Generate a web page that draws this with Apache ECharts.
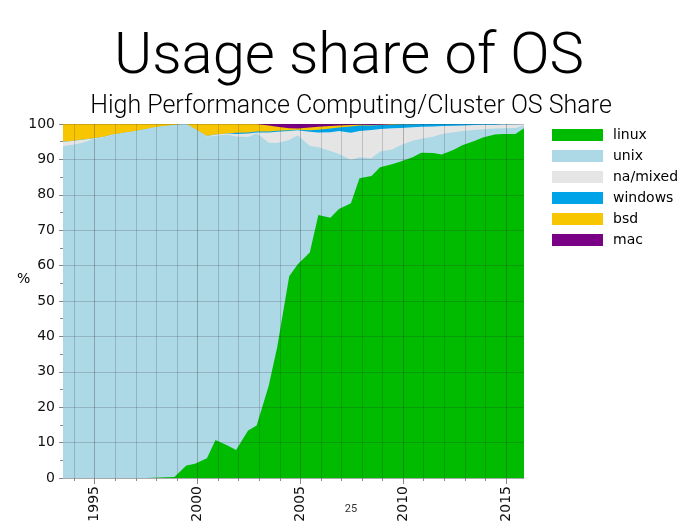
<!DOCTYPE html>
<html><head><meta charset="utf-8">
<script src="https://cdn.jsdelivr.net/npm/echarts@6/dist/echarts.min.js"></script>
<style>html,body{margin:0;padding:0;background:#fff}#c{width:700px;height:525px}</style>
</head><body><div id="c"></div>
<script>
// TOP500 list dates (June / November of each year, as decimal years)
const startYear = 1993;
const endYear = 2015;
const listDates = [];
for (let y = startYear; y <= endYear; y++) { listDates.push(y + 0.458); listDates.push(y + 0.875); }

const seriesNames = ['linux', 'unix', 'na/mixed', 'windows', 'bsd', 'mac'];
const seriesColors = ['#00bb00', '#add8e6', '#e5e5e5', '#00a2e8', '#f7c600', '#7a0085'];

const linux = [0,0,0,0,0,0,0,0,0,0.1,0.2,0.3,3.5,4.0,5.6,10.7,9.2,7.9,13.4,14.8,26,37,57,60.4,63.7,74.3,73.5,76,77.6,84.7,85.3,87.8,88.6,89.4,90.6,91.9,91.8,91.4,92.7,94.0,95.2,96.2,97.0,97.2,97.2,98.8];
const unix = [93.8,94.1,94.8,95.7,96.3,96.9,97.5,97.9,98.5,98.9,99.2,99.4,96.5,94.6,90.9,86.0,87.8,88.6,82.9,82.6,68.7,57.6,38.5,36.4,30.1,19.1,18.9,15.5,12.3,5.9,5.0,4.4,4.2,4.6,4.7,3.9,4.6,5.8,5.0,4.0,3.1,2.3,1.7,1.6,1.7,0.8];
const mixed = [1.2,1.1,0.8,0.2,0.1,0.1,0,0,0,0,0,0,0,0,0.1,0.3,0.3,0.7,1.0,0.2,2.9,3.2,2.5,1.4,4.0,4.2,5.3,6.5,7.6,7.4,8.0,6.4,6.0,4.9,3.8,3.4,2.9,2.2,1.8,1.6,1.4,1.3,1.1,1.1,1.0,0.4];
const windows = [0,0,0,0,0,0,0,0,0,0,0,0,0,0,0,0,0,0.3,0.3,0.3,0.3,0.3,0.2,0.2,0.4,0.8,1.0,1.0,1.8,1.6,1.3,1.1,1.0,1.0,0.8,0.8,0.7,0.6,0.5,0.4,0.3,0.2,0.2,0.1,0.1,0];
const bsd = [5.0,4.8,4.4,4.1,3.6,3.0,2.5,2.1,1.5,1.0,0.6,0.3,0,1.4,3.4,3.0,2.7,2.5,2.4,2.1,1.7,1.1,0.6,0.3,0.8,0.8,0.7,0.6,0.4,0.2,0.1,0.1,0.1,0,0,0,0,0,0,0,0,0,0,0,0,0];
const mac = [0,0,0,0,0,0,0,0,0,0,0,0,0,0,0,0,0,0,0,0,0.4,0.8,1.2,1.3,1.0,0.8,0.6,0.4,0.3,0.3,0.3,0.2,0.1,0.1,0.1,0,0,0,0,0,0,0,0,0,0,0];

const seriesValues = [linux, unix, mixed, windows, bsd, mac];
const yearTicks = [];
for (let y = 1994; y <= 2015; y++) yearTicks.push(y);
const yearLabels = [1995, 2000, 2005, 2010, 2015];
const yMin = 0, yMax = 100, yStep = 10;

// stacked tops (cumulative sums); each area is filled from 0 and drawn top-down so lower layers cover upper ones
const stackTops = seriesValues.map((vals, k) =>
  vals.map((_, i) => seriesValues.slice(0, k + 1).reduce((s, arr) => s + arr[i], 0)));

const chart = echarts.init(document.getElementById('c'));
const FONT = 'DejaVu Sans';
const gridLine = { show: true, lineStyle: { color: 'rgba(40,40,40,0.2)', width: 1 } };

const series = [];
for (let k = seriesNames.length - 1; k >= 0; k--) {
  series.push({
    name: seriesNames[k], type: 'line', xAxisIndex: 0,
    symbol: 'none', showSymbol: false,
    lineStyle: { width: 0 },
    itemStyle: { color: seriesColors[k] },
    areaStyle: { color: seriesColors[k], opacity: 1 },
    data: listDates.map((d, i) => [d, Math.min(yMax, stackTops[k][i])])
  });
}

chart.setOption({
  animation: false,
  title: [
    { text: 'Usage share of OS', left: 344, top: 24, textAlign: 'center',
      textStyle: { fontFamily: 'Roboto', fontWeight: 300, fontSize: 58, color: '#000' } },
    { text: 'High Performance Computing/Cluster OS Share', left: 346, top: 89, textAlign: 'center',
      textStyle: { fontFamily: 'Roboto', fontWeight: 300, fontSize: 25, color: '#000' } },
    { text: '25', left: 346, top: 499, textAlign: 'center',
      textStyle: { fontFamily: 'Roboto', fontWeight: 'normal', fontSize: 11, color: '#333' } }
  ],
  graphic: [
    { type: 'text', left: 17, top: 272, style: { text: '%', fontFamily: FONT, fontSize: 14, fill: '#000' } }
  ],
  legend: {
    orient: 'vertical', left: 547, top: 122, itemWidth: 51, itemHeight: 12, itemGap: 5,
    icon: 'rect',
    textStyle: { fontFamily: FONT, fontSize: 14, color: '#000', padding: [0, 0, 0, 5], lineHeight: 16 },
    data: seriesNames
  },
  grid: { left: 63, right: 176, top: 124, bottom: 47, containLabel: false },
  xAxis: [
    { type: 'value', min: listDates[0], max: listDates[listDates.length - 1], z: 5,
      axisLine: { show: true, lineStyle: { color: 'rgba(40,40,40,0.25)' } },
      axisTick: { show: true, customValues: yearTicks, length: 3, lineStyle: { color: '#888' } },
      splitLine: gridLine,
      axisLabel: { customValues: yearLabels, rotate: 90, fontFamily: FONT, fontSize: 14, color: '#111', margin: 8,
                   formatter: v => String(Math.round(v)) } },
    { type: 'value', min: listDates[0], max: listDates[listDates.length - 1], position: 'bottom', z: 5,
      axisLine: { show: false },
      axisTick: { show: true, customValues: yearLabels, length: 6, lineStyle: { color: '#888' } },
      splitLine: { show: true, lineStyle: { color: 'rgba(40,40,40,0.12)', width: 1 } },
      axisLabel: { show: false } }
  ],
  yAxis: {
    type: 'value', min: yMin, max: yMax, interval: yStep, z: 5,
    axisLine: { show: false },
    axisTick: { show: true, length: 4, lineStyle: { color: '#888' } },
    minorTick: { show: true, splitNumber: 2, length: 3, lineStyle: { color: '#888' } },
    splitLine: gridLine,
    axisLabel: { fontFamily: FONT, fontSize: 14, color: '#111', margin: 8 }
  },
  series
});
</script></body></html>
